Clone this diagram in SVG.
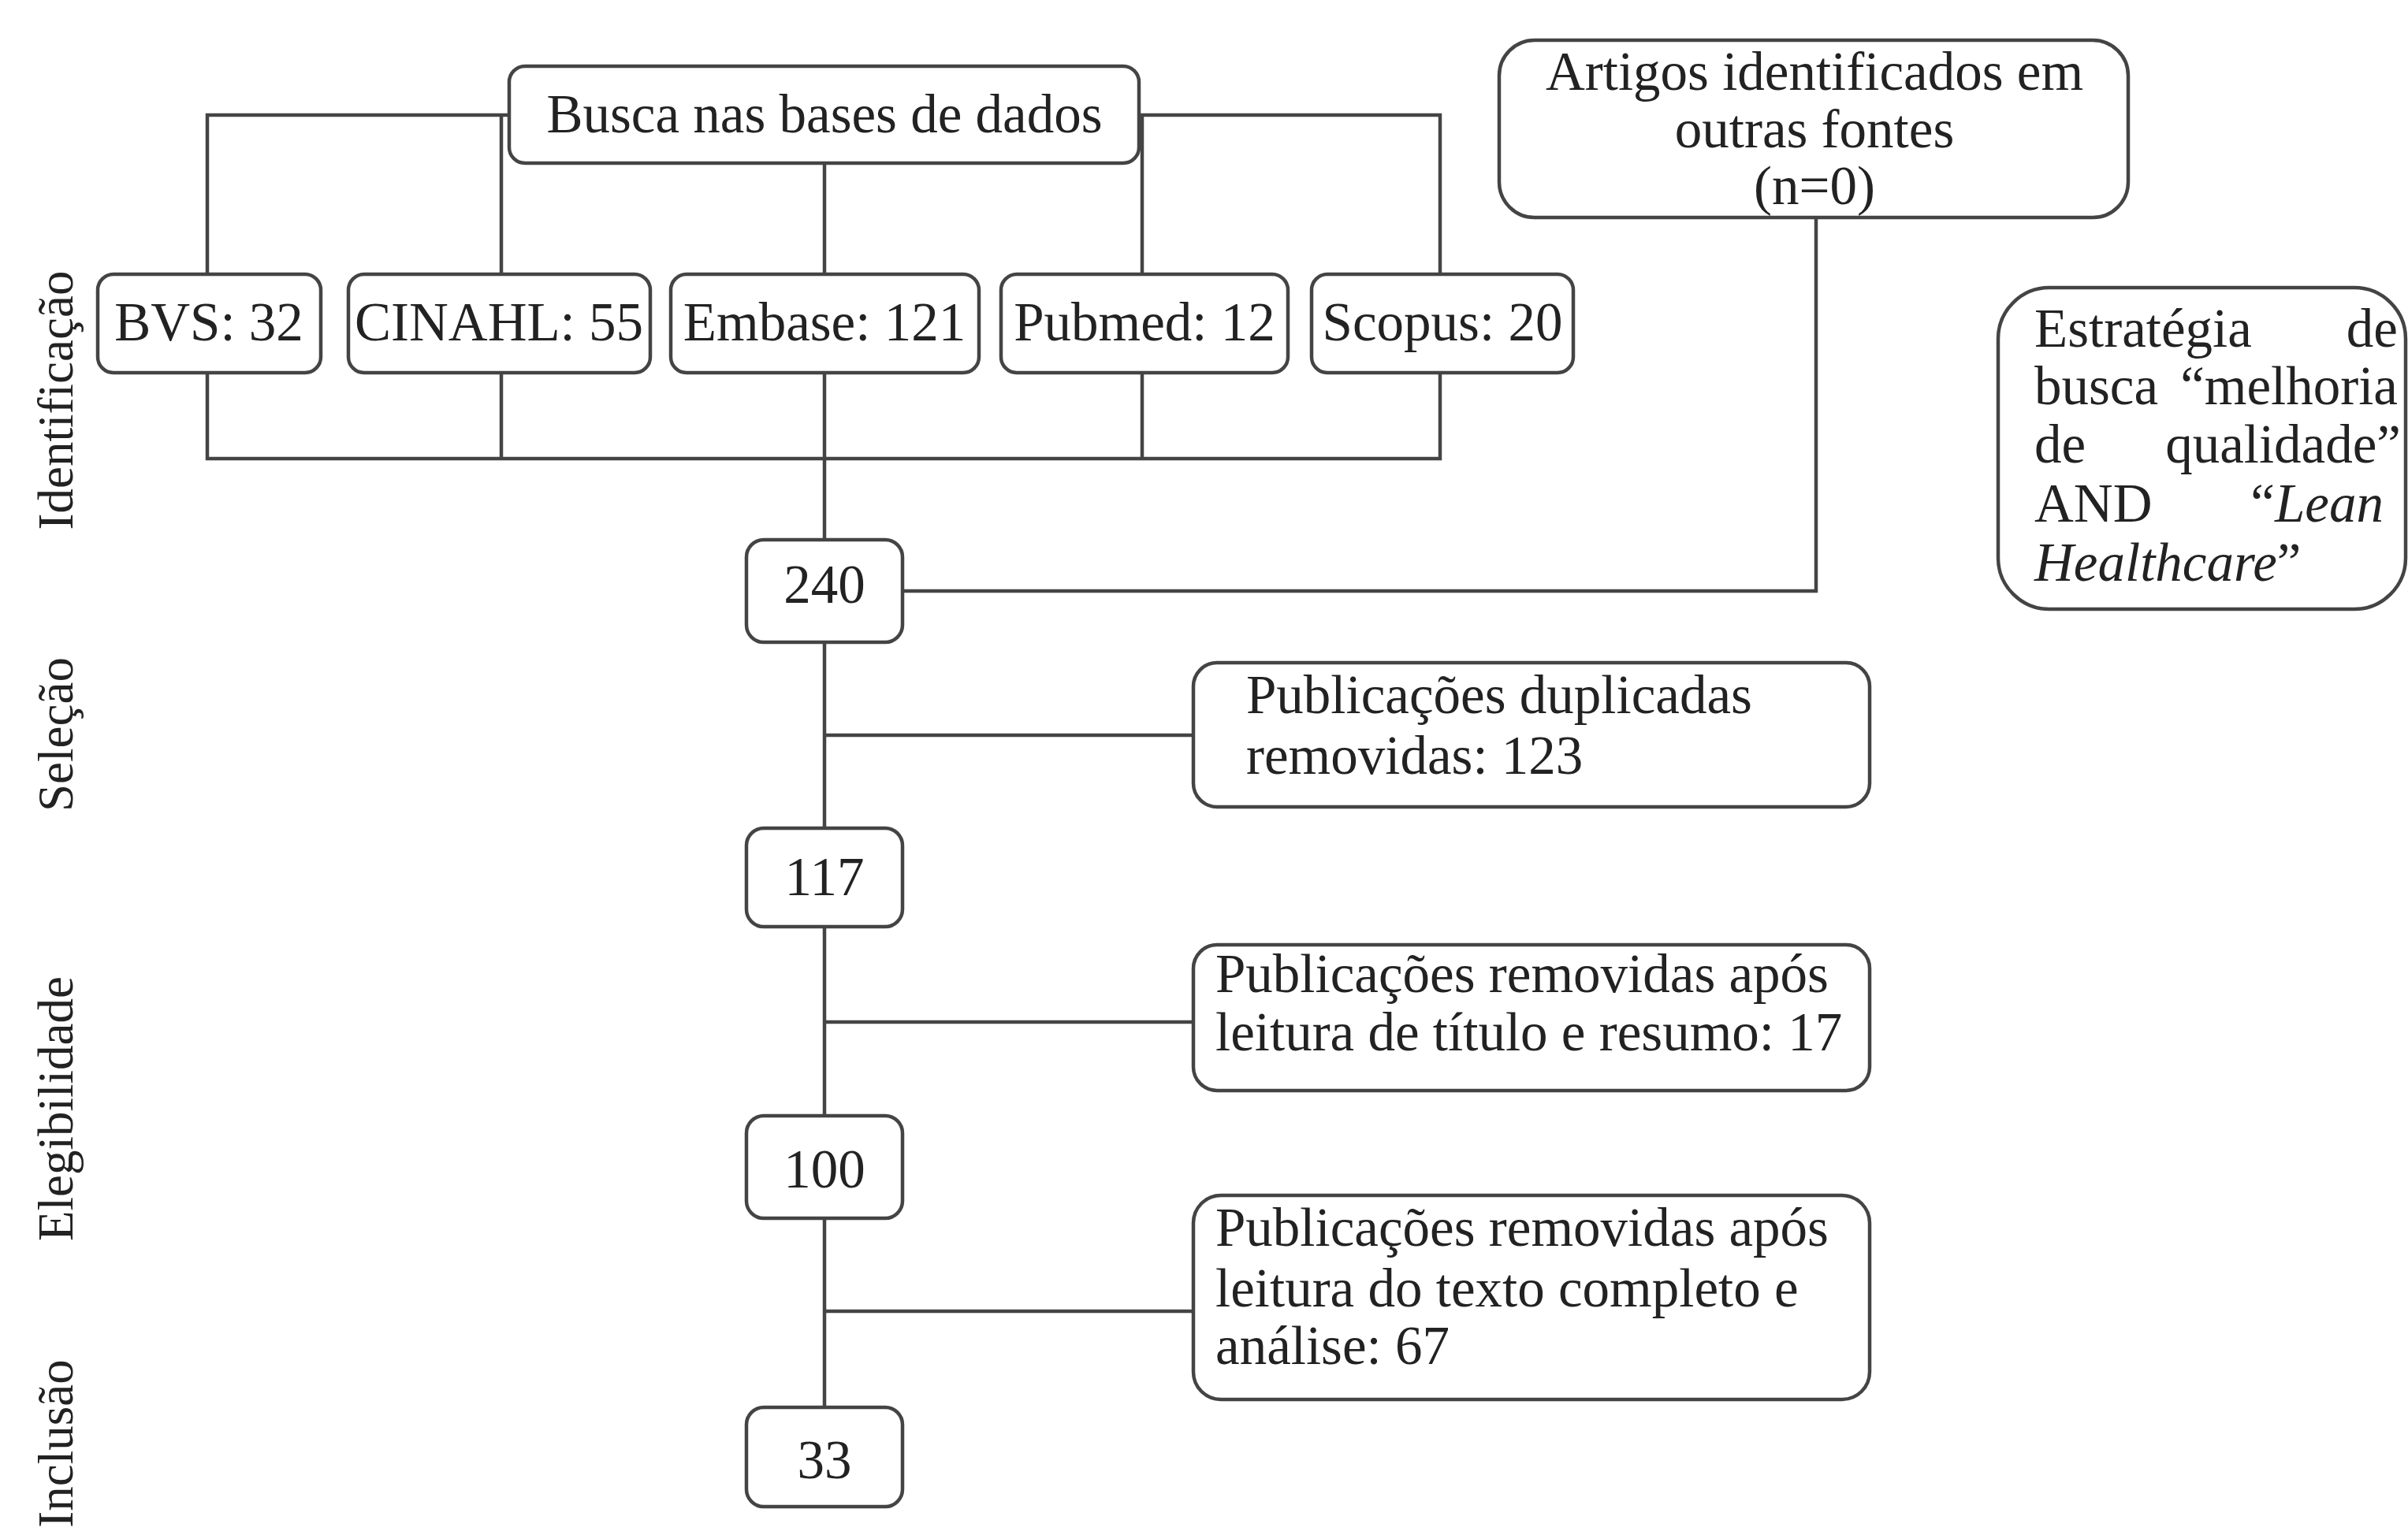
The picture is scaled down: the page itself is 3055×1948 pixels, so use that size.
<svg xmlns="http://www.w3.org/2000/svg" width="3055" height="1948" viewBox="0 0 3055 1948">
<style>
.box{fill:#fff;stroke:#444;stroke-width:4.5}
.ln{fill:none;stroke:#444;stroke-width:4.5}
text{font-family:"Liberation Serif","Times New Roman",serif;font-size:69px;fill:#222}
.c{text-anchor:middle}
.e{text-anchor:end}
.side{font-size:63px;text-anchor:middle}
</style>
<rect width="3055" height="1948" fill="#fff"/>
<g id="connectors">
<path class="ln" d="M263,348 V146 H646 M636,146 V348 M1445,146 H1827 V348 M1449,146 V348 M1046,207 V348"/>
<path class="ln" d="M263,473 V582 H1827 V473 M636,473 V582 M1449,473 V582 M1046,473 V685"/>
<path class="ln" d="M1145,750 H2304 V276"/>
<path class="ln" d="M1046,815 V1051 M1046,933 H1514 M1046,1176 V1416 M1046,1297 H1514 M1046,1546 V1786 M1046,1664 H1514"/>
</g>
<g id="labels">
<text class="side" transform="translate(92,508) rotate(-90)">Identificação</text>
<text class="side" transform="translate(92,932) rotate(-90)">Seleção</text>
<text class="side" transform="translate(92,1407) rotate(-90)">Elegibilidade</text>
<text class="side" transform="translate(92,1832) rotate(-90)">Inclusão</text>
</g>
<g id="busca"><rect class="box" x="646" y="84" width="799" height="123" rx="20"/><text class="c" x="1046" y="168">Busca nas bases de dados</text></g>
<g id="bvs"><rect class="box" x="124" y="348" width="283" height="125" rx="20"/><text class="c" x="265" y="432">BVS: 32</text></g>
<g id="cinahl"><rect class="box" x="442" y="348" width="383" height="125" rx="20"/><text class="c" x="633" y="432">CINAHL: 55</text></g>
<g id="embase"><rect class="box" x="851" y="348" width="391" height="125" rx="20"/><text class="c" x="1046" y="432">Embase: 121</text></g>
<g id="pubmed"><rect class="box" x="1270" y="348" width="364" height="125" rx="20"/><text class="c" x="1452" y="432">Pubmed: 12</text></g>
<g id="scopus"><rect class="box" x="1664" y="348" width="332" height="125" rx="20"/><text class="c" x="1830" y="432">Scopus: 20</text></g>
<g id="artigos"><rect class="box" x="1902" y="51" width="798" height="225" rx="45"/>
<text class="c" x="2302" y="114">Artigos identificados em</text>
<text class="c" x="2302" y="187">outras fontes</text>
<text class="c" x="2302" y="259">(n=0)</text></g>
<g id="estrategia"><rect class="box" x="2535" y="365" width="517" height="408" rx="65"/>
<text x="2581" y="440">Estratégia</text><text class="e" x="3042" y="440">de</text>
<text x="2581" y="513">busca</text><text class="e" x="3042" y="513">“melhoria</text>
<text x="2581" y="587">de</text><text class="e" x="3046" y="587">qualidade”</text>
<text x="2581" y="662">AND</text><text class="e" x="3024" y="662">“<tspan font-style="italic">Lean</tspan></text>
<text x="2581" y="737"><tspan font-style="italic">Healthcare</tspan>”</text></g>
<g id="n240"><rect class="box" x="947" y="685" width="198" height="130" rx="22"/><text class="c" x="1046" y="765">240</text></g>
<g id="n117"><rect class="box" x="947" y="1051" width="198" height="125" rx="22"/><text class="c" x="1046" y="1136">117</text></g>
<g id="n100"><rect class="box" x="947" y="1416" width="198" height="130" rx="22"/><text class="c" x="1046" y="1507">100</text></g>
<g id="n33"><rect class="box" x="947" y="1786" width="198" height="126" rx="22"/><text class="c" x="1046" y="1876">33</text></g>
<g id="dup"><rect class="box" x="1514" y="841" width="858" height="183" rx="30"/>
<text x="1581" y="905">Publicações duplicadas</text><text x="1581" y="982">removidas: 123</text></g>
<g id="titulo"><rect class="box" x="1514" y="1199" width="858" height="185" rx="30"/>
<text x="1542" y="1259">Publicações removidas após</text><text x="1542" y="1333">leitura de título e resumo: 17</text></g>
<g id="texto"><rect class="box" x="1514" y="1517" width="858" height="259" rx="35"/>
<text x="1542" y="1581">Publicações removidas após</text><text x="1542" y="1658">leitura do texto completo e</text><text x="1542" y="1731">análise: 67</text></g>
</svg>
